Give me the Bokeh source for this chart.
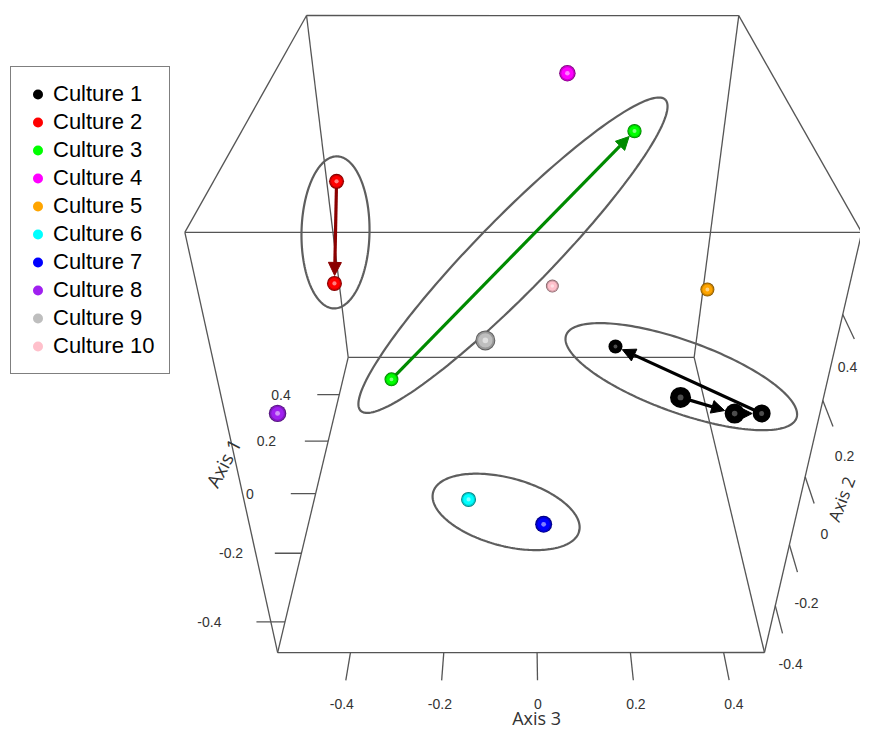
import numpy as np
from bokeh.plotting import figure
from bokeh.models import Range1d, Legend, LegendItem, Arrow, NormalHead, ColumnDataSource
from bokeh.core.properties import value
from bokeh.embed import file_html
from bokeh.resources import INLINE

# ---------------- data (ordination scores) ----------------
cultures = ["Culture 1", "Culture 2", "Culture 3", "Culture 4", "Culture 5",
            "Culture 6", "Culture 7", "Culture 8", "Culture 9", "Culture 10"]
colors = ["#000000", "#ff0000", "#00ff00", "#ff00ff", "#ffa500",
          "#00ffff", "#0000ff", "#a020f0", "#bebebe", "#ffc0cb"]

axis1 = {1: [-0.460, -0.407, -0.253, 0.298], 2: [0.394, 0.251], 3: [0.251, 0.575],
         4: [0.335], 5: [0.388], 6: [-0.062], 7: [-0.301], 8: [-0.205], 9: [-0.327], 10: [0.575]}
axis2 = {1: [0.189, 0.099, -0.043, -0.298], 2: [0.182, -0.047], 3: [-0.379, 0.241],
         4: [0.511], 5: [-0.164], 6: [-0.524], 7: [-0.345], 8: [-0.087], 9: [0.220], 10: [-0.284]}
axis3 = {1: [0.244, 0.359, 0.458, 0.214], 2: [-0.492, -0.497], 3: [-0.378, 0.256],
         4: [0.066], 5: [0.457], 6: [-0.164], 7: [0.014], 8: [-0.551], 9: [-0.103], 10: [0.054]}

# trajectories (consecutive samples) and grouping ellipses
trajectories = [1, 2, 3]
ellipse_groups = [[1], [2], [3], [6, 7]]

tick_values = [-0.4, -0.2, 0, 0.2, 0.4]
tick_labels = ["-0.4", "-0.2", "0", "0.2", "0.4"]
axis_titles = ["Axis 1", "Axis 2", "Axis 3"]

# ---------------- view (bounding box + perspective camera) ----------------
lim1 = (-0.481, 0.579)
lim2 = (-0.569, 0.569)
lim3 = (-0.556, 0.4875)
VIEW = np.array([[487.17, -144.56, 212.12, 277.14],
                 [0.14217, -485.4, -149.85, 652.15],
                 [0.00045442, -0.28087, 0.40719, 1.0]])
SPHERE_R = 0.0185


def norm(a, lim):
    return (np.asarray(a, float) - lim[0]) / (lim[1] - lim[0])


def proj_n(u, v, w):
    u, v, w = np.broadcast_arrays(np.asarray(u, float), np.asarray(v, float), np.asarray(w, float))
    h = VIEW @ np.vstack([u.ravel(), v.ravel(), w.ravel(), np.ones(u.size)])
    return h[0] / h[2], h[1] / h[2]


def proj(a1, a2, a3):
    return proj_n(norm(a3, lim3), norm(a2, lim2), norm(a1, lim1))


def sphere_px(a1, a2, a3):
    x0, y0 = proj(a1, a2, a3)
    d = 0.01
    x1, y1 = proj(a1, a2, np.asarray(a3, float) + d)
    return 2 * SPHERE_R * np.hypot(x1 - x0, y1 - y0) / d


def depth(a1, a2, a3):
    u, v, w = norm(a3, lim3), norm(a2, lim2), norm(a1, lim1)
    return VIEW[2, 0] * u + VIEW[2, 1] * v + VIEW[2, 2] * w + VIEW[2, 3]


W, H = 860, 733
p = figure(width=W, height=H, x_range=Range1d(0, W), y_range=Range1d(H, 0),
           x_axis_type=None, y_axis_type=None, toolbar_location=None,
           output_backend="svg", min_border=0, outline_line_color=None,
           background_fill_color="white", border_fill_color="white")

# ---------------- box ----------------
edge_col = "#555555"
xs, ys = [], []
for a in (0, 1):
    for b in (0, 1):
        for seg in (([0, 1], [a, a], [b, b]), ([a, a], [0, 1], [b, b]), ([a, a], [b, b], [0, 1])):
            ex, ey = proj_n(*seg)
            xs.append(list(ex)); ys.append(list(ey))
p.multi_line(xs, ys, line_color=edge_col, line_width=1.3, level="underlay")

# ---------------- ticks and labels ----------------
TICK, LAB3, LAB2, LAB1 = 0.065, 0.118, 0.134, 0.16
XMAX_LABEL = W - 13
tx, ty, lx, ly, lt = [], [], [], [], []
for t, s in zip(tick_values, tick_labels):
    u = norm(t, lim3)   # axis 3 along front-bottom edge
    a, b = proj_n([u, u], [0, 0], [0, -TICK]); tx.append(list(a)); ty.append(list(b))
    a, b = proj_n(u, 0, -LAB3); lx.append(a[0]); ly.append(b[0]); lt.append(s)
    v = norm(t, lim2)   # axis 2 along front-right edge
    a, b = proj_n([1, 1], [v, v], [0, -TICK]); tx.append(list(a)); ty.append(list(b))
    a, b = proj_n(1, v, -LAB2); lx.append(min(a[0], XMAX_LABEL)); ly.append(b[0]); lt.append(s)
    w = norm(t, lim1)   # axis 1 along bottom-left edge
    a, b = proj_n([0, -TICK * 0.93], [0, 0], [w, w]); tx.append(list(a)); ty.append(list(b))
    a, b = proj_n(-LAB1, 0, w); lx.append(a[0]); ly.append(b[0]); lt.append(s)
p.multi_line(tx, ty, line_color=edge_col, line_width=1.3, level="underlay")
p.text(lx, ly, text=lt, text_font=value("Liberation Sans"), text_font_size="14px",
       text_color="#333333", text_align="center", text_baseline="middle")

# axis titles (Axis 2 / Axis 3 pulled inside the canvas edges)
t1x, t1y = proj_n(-0.25, 0, 0.56)
t2x, t2y = proj_n(1, 0.70, -0.25)
t3x, t3y = proj_n(0.53, 0, -0.149)
title_style = dict(text_font=value("Open Sans"), text_color="#333333",
                   text_align="center", text_baseline="middle")
p.text([t1x[0]], [t1y[0]], text=[axis_titles[0]], angle=62, angle_units="deg",
       text_font_size="19px", **title_style)
p.text([min(t2x[0], W - 19)], [t2y[0]], text=[axis_titles[1]], angle=69, angle_units="deg",
       text_font_size="17px", **title_style)
p.text([t3x[0]], [t3y[0]], text=[axis_titles[2]], text_font_size="18px", **title_style)

# ---------------- ellipses (screen-space hulls of groups) ----------------
ell_pad = {1: 42, 2: 25, 3: 44, 6: 36}
ell_minor = {1: 36, 2: 34, 3: 37, 6: 34}
ell_rot = {1: -4.8, 2: 0.0, 3: 0.0, 6: -3.4}
ell_shift = {1: -8, 2: 0, 3: 0, 6: 0}
exs, eys = [], []
for grp in ellipse_groups:
    px_, py_ = [], []
    for k in grp:
        x, y = proj(axis1[k], axis2[k], axis3[k]); px_ += list(x); py_ += list(y)
    px_, py_ = np.array(px_), np.array(py_)
    dmat = np.hypot(px_[:, None] - px_[None, :], py_[:, None] - py_[None, :])
    i, j = np.unravel_index(np.argmax(dmat), dmat.shape)
    if px_[i] > px_[j]:
        i, j = j, i
    ang0 = np.arctan2(py_[j] - py_[i], px_[j] - px_[i])
    cx = (px_[i] + px_[j]) / 2 + ell_shift[grp[0]] * np.cos(ang0)
    cy = (py_[i] + py_[j]) / 2 + ell_shift[grp[0]] * np.sin(ang0)
    ang = ang0 + np.deg2rad(ell_rot[grp[0]])
    A = dmat[i, j] / 2 + ell_pad[grp[0]]
    B = ell_minor[grp[0]]
    th = np.linspace(0, 2 * np.pi, 200)
    ex = cx + A * np.cos(th) * np.cos(ang) - B * np.sin(th) * np.sin(ang)
    ey = cy + A * np.cos(th) * np.sin(ang) + B * np.sin(th) * np.cos(ang)
    exs.append(list(ex)); eys.append(list(ey))
p.multi_line(exs, eys, line_color="#5e5e5e", line_width=2.2, level="underlay")

# ---------------- trajectory arrows ----------------
arrow_cols = {1: "#000000", 2: "#8b0000", 3: "#008b00"}
for k in trajectories:
    x, y = proj(axis1[k], axis2[k], axis3[k])
    sz = sphere_px(axis1[k], axis2[k], axis3[k])
    for i in range(len(x) - 1):
        dx, dy = x[i + 1] - x[i], y[i + 1] - y[i]
        L = np.hypot(dx, dy)
        r = sz[i + 1] / 2 + 0.5
        xe, ye = x[i + 1] - dx / L * r, y[i + 1] - dy / L * r
        c = arrow_cols[k]
        p.add_layout(Arrow(x_start=x[i], y_start=y[i], x_end=xe, y_end=ye,
                           line_color=c, line_width=3.2, level="underlay",
                           end=NormalHead(size=13, fill_color=c, line_color=c, line_width=1)))

# ---------------- spheres ----------------
def shade(c, f):
    c = c.lstrip("#")
    r, g, b = (int(c[i:i + 2], 16) for i in (0, 2, 4))
    return "#%02x%02x%02x" % (int(r * f), int(g * f), int(b * f))


items = []
for k, (name, col) in enumerate(zip(cultures, colors), start=1):
    a1, a2, a3 = np.array(axis1[k]), np.array(axis2[k]), np.array(axis3[k])
    order = np.argsort(-depth(a1, a2, a3))  # far spheres first
    x, y = proj(a1[order], a2[order], a3[order])
    sz = sphere_px(a1[order], a2[order], a3[order])
    src = ColumnDataSource(dict(x=x, y=y, s=sz, s1=sz * 0.9, s2=sz * 0.72, s3=sz * 0.28))
    p.scatter("x", "y", size="s", source=src, fill_color=shade(col, 0.5), line_color=None)
    p.scatter("x", "y", size="s1", source=src, fill_color=shade(col, 0.8), line_color=None)
    main = p.scatter("x", "y", size="s2", source=src, fill_color=col, line_color=None)
    p.scatter("x", "y", size="s3", source=src, fill_color="white",
              fill_alpha=0.5 if k != 1 else 0.3, line_color=None)
    items.append(LegendItem(label=name, renderers=[main]))

legend = Legend(items=items, location=(10, 359), padding=14, spacing=2, margin=0,
                glyph_width=25, glyph_height=26, label_standoff=3,
                label_text_font="Liberation Sans", label_text_font_size="22px",
                label_text_color="black", border_line_color="black", border_line_width=1.3,
                background_fill_color="white", background_fill_alpha=1.0)
p.add_layout(legend, "center")

open("out.html", "w").write(file_html(p, INLINE))
